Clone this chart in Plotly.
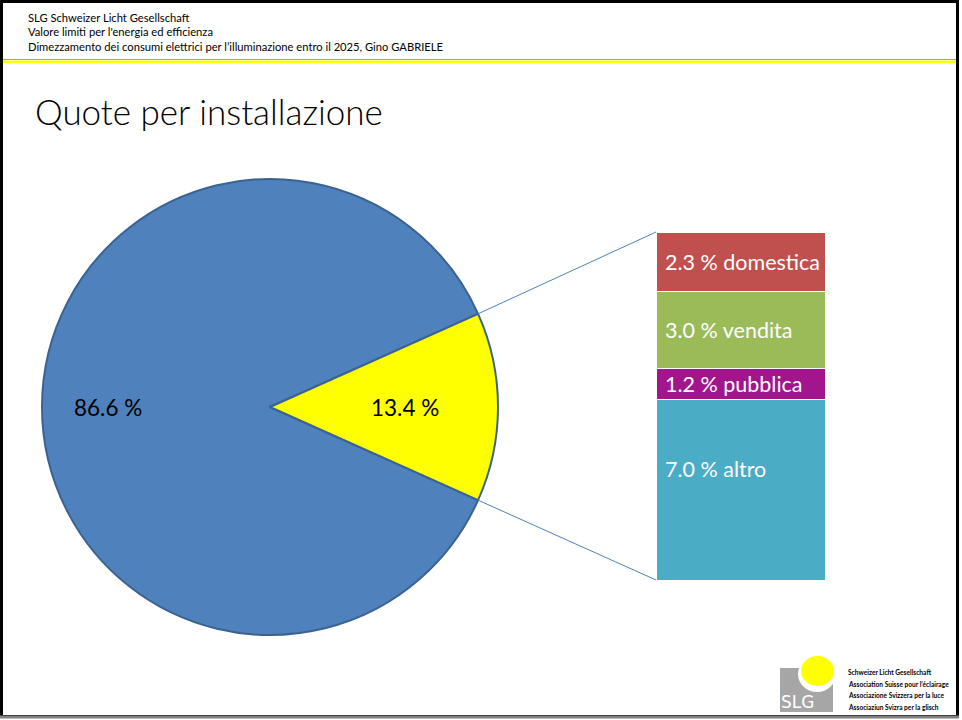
import math
import plotly.graph_objects as go

W, H = 962, 720

# main split of the pie
pie_labels = ["altre", "per installazione"]
pie_values = [86.6, 13.4]
pie_colors = ["#4f81bd", "#ffff00"]

# breakdown of the 13.4 % (top to bottom in the bar)
sub_labels = ["domestica", "vendita", "pubblica", "altro"]
sub_values = [2.3, 3.0, 1.2, 7.0]
sub_colors = ["#c0504d", "#9bbb59", "#a2158d", "#4bacc6"]

header_lines = [
    "SLG Schweizer Licht Gesellschaft",
    "Valore limiti per l'energia ed efficienza",
    "Dimezzamento dei consumi elettrici per l\u2019illuminazione entro il 2025, Gino GABRIELE",
]
title = "Quote per installazione"
logo_lines = [
    "Schweizer Licht Gesellschaft",
    "Association Suisse pour l\u2019\u00e9clairage",
    "Associazione Svizzera per la luce",
    "Associaziun Svizra per la glisch",
]


def px(x):
    return x / W


def py(y):
    return 1 - y / H


# pie geometry in pixels
cx, cy, R = 270, 407, 228
small = pie_values[1]
half = small / 100 * 360 / 2

fig = go.Figure()

# blue slice goes first, clockwise, so the yellow one ends up centred at 3 o'clock
fig.add_trace(go.Pie(
    labels=pie_labels, values=pie_values, sort=False,
    direction="clockwise", rotation=90 + half,
    marker=dict(colors=pie_colors, line=dict(color="#3a6391", width=2)),
    textinfo="none", hoverinfo="label+value", showlegend=False,
    domain=dict(x=[px(cx - R), px(cx + R)], y=[py(cy + R), py(cy - R)]),
))

# stacked bar, bottom segment first
bar_x0, bar_x1, bar_y0, bar_y1 = 656, 825, 232, 580
for lab, val, col in reversed(list(zip(sub_labels, sub_values, sub_colors))):
    fig.add_trace(go.Bar(
        x=[0], y=[val], name=lab, width=1, xaxis="x2", yaxis="y2",
        marker=dict(color=col, line=dict(color="white", width=1)),
        showlegend=False, hovertemplate=lab + ": %{y} %<extra></extra>",
    ))

total = sum(sub_values)
fig.update_layout(
    barmode="stack",
    width=W, height=H,
    margin=dict(l=0, r=0, t=0, b=0),
    paper_bgcolor="white", plot_bgcolor="rgba(0,0,0,0)",
    xaxis2=dict(domain=[px(bar_x0), px(bar_x1)], range=[-0.5, 0.5], visible=False,
                anchor="y2", fixedrange=True),
    yaxis2=dict(domain=[py(bar_y1), py(bar_y0)], range=[0, total], visible=False,
                anchor="x2", fixedrange=True),
    font=dict(family="Lato, Open Sans, sans-serif"),
)

# bar labels
cum = total
for i, (lab, val) in enumerate(zip(sub_labels, sub_values)):
    mid = cum - val / 2
    cum -= val
    fig.add_annotation(
        x=-0.46, y=mid, xref="x2", yref="y2", xanchor="left", yanchor="middle",
        text=f"{val:.1f} % {lab}", showarrow=False,
        yshift=21 if i == len(sub_labels) - 1 else 0,
        font=dict(size=21.5, color="white", family="Lato, sans-serif"),
    )

# pie labels
for val, ang, rf in [(pie_values[0], 180, 0.71), (pie_values[1], 0, 0.59)]:
    a = math.radians(ang)
    fig.add_annotation(
        x=px(cx + rf * R * math.cos(a)), y=py(cy - rf * R * math.sin(a)),
        xref="paper", yref="paper", xanchor="center", yanchor="middle",
        showarrow=False, text=f"{val:.1f} %",
        font=dict(size=22.5, color="black", family="Lato, sans-serif"),
    )

shapes = []
# connector lines from the slice edges to the bar corners
a = math.radians(half)
for sgn, by in [(1, bar_y0), (-1, bar_y1)]:
    ex, ey = cx + R * math.cos(a), cy - sgn * R * math.sin(a)
    shapes.append(dict(type="line", xref="paper", yref="paper",
                       x0=px(ex), y0=py(ey), x1=px(bar_x0), y1=py(by),
                       line=dict(color="#4f81bd", width=1)))

# slide frame and header rules
shapes += [
    dict(type="line", xref="paper", yref="paper", x0=px(3), x1=px(957), y0=py(59.5), y1=py(59.5),
         line=dict(color="#a0a0a0", width=1)),
    dict(type="line", xref="paper", yref="paper", x0=px(3), x1=px(957), y0=py(61.8), y1=py(61.8),
         line=dict(color="#ffff00", width=2.5)),
    dict(type="rect", xref="paper", yref="paper", x0=px(1.5), x1=px(957.5), y0=py(1.5), y1=py(716.5),
         line=dict(color="black", width=3), layer="above"),
    dict(type="line", xref="paper", yref="paper", x0=px(0), x1=px(959), y0=py(717), y1=py(717),
         line=dict(color="#808080", width=3), layer="above"),
    # logo
    dict(type="rect", xref="paper", yref="paper", x0=px(780), x1=px(833), y0=py(712), y1=py(668),
         fillcolor="#a6a6a6", line=dict(width=0)),
    dict(type="circle", xref="paper", yref="paper", x0=px(798), x1=px(836), y0=py(692), y1=py(656),
         fillcolor="white", line=dict(width=0)),
    dict(type="circle", xref="paper", yref="paper", x0=px(801), x1=px(834), y0=py(686), y1=py(656),
         fillcolor="#ffff00", line=dict(width=0)),
]
fig.update_layout(shapes=shapes)

for i, line in enumerate(header_lines):
    fig.add_annotation(x=px(26), y=py(17 + 14.5 * i), xref="paper", yref="paper",
                       xanchor="left", yanchor="middle", showarrow=False, text=line,
                       font=dict(size=11.2, color="black", family="Lato, sans-serif"))

fig.add_annotation(x=px(33), y=py(111), xref="paper", yref="paper", xanchor="left",
                   yanchor="middle", showarrow=False, text=title,
                   font=dict(size=35, color="black", family="Lato, sans-serif", weight=300))

fig.add_annotation(x=px(779), y=py(702), xref="paper", yref="paper", xanchor="left",
                   yanchor="middle", showarrow=False, text="SLG",
                   font=dict(size=17, color="white", family="DejaVu Sans, sans-serif"))

for i, line in enumerate(logo_lines):
    fig.add_annotation(x=px(846), y=py(672 + 11.7 * i), xref="paper", yref="paper",
                       xanchor="left", yanchor="middle", showarrow=False, text=line,
                       font=dict(size=6.6, color="black", family="Lato, sans-serif", weight=700))

fig.write_html("out.html", config={"displayModeBar": False},
               post_script="document.body.style.margin='0';document.body.style.overflow='hidden';")
